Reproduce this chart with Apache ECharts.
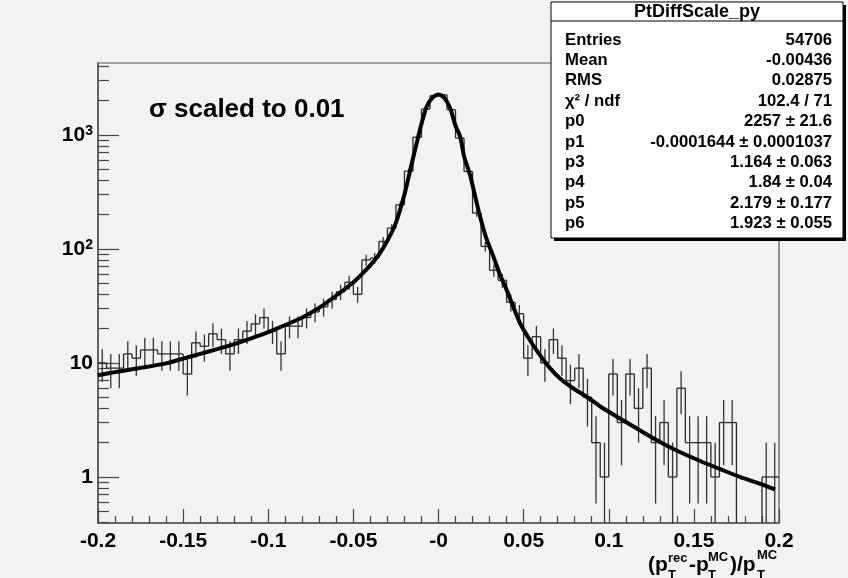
<!DOCTYPE html>
<html><head><meta charset="utf-8">
<script src="https://cdn.jsdelivr.net/npm/echarts@6/dist/echarts.min.js"></script>
<style>html,body{margin:0;padding:0;background:#f2f2f2;}#c{width:848px;height:578px;}</style>
</head><body><div id="c"></div>
<script>
// ---- data ----
const binLow = -0.2;
const binWidth = 0.005;
const counts = [
  10, 9, 9, 12, 11, 13, 13, 12, 12, 12,
  8, 15, 14, 18, 16, 12, 16, 19, 22, 25,
  19, 12, 21, 21, 25, 28, 31, 36, 42, 51,
  40, 80, 83, 116, 152, 243, 480, 950, 1680, 2200,
  2240, 1660, 935, 477, 206, 105, 65, 53, 34, 27,
  11, 17, 10, 16, 11, 7, 9, 5, 2, 1,
  8, 3, 8, 4, 9, 2, 3, 1, 6, 2,
  2, 2, 1, 3, 3, 0, 0, 0, 1, 1
];
const fitX = [-0.2, -0.19, -0.18, -0.17, -0.16, -0.15, -0.14, -0.13, -0.12, -0.11, -0.10, -0.09, -0.08, -0.07, -0.06, -0.05, -0.045, -0.04, -0.035, -0.03, -0.025, -0.02, -0.0175, -0.015, -0.0128, -0.01, -0.0069, -0.0035, 0, 0.0035, 0.0068, 0.01, 0.0127, 0.015, 0.0185, 0.0215, 0.0244, 0.028, 0.0322, 0.036, 0.04, 0.0479, 0.0537, 0.0596, 0.0655, 0.0714, 0.079, 0.087, 0.095, 0.1066, 0.118, 0.128, 0.138, 0.1537, 0.165, 0.177, 0.189, 0.1977];
const fitY = [7.8, 8.3, 8.8, 9.3, 9.9, 10.9, 12.0, 13.2, 14.6, 16.4, 18.6, 21.5, 25, 30.5, 39, 51, 60, 72, 89, 118, 170, 300, 430, 620, 846, 1250, 1771, 2120, 2257, 2100, 1714, 1200, 966, 650, 446, 290, 192, 125, 86, 60, 43.7, 22.3, 15.8, 11.7, 9.0, 7.3, 6.0, 5.05, 4.15, 3.26, 2.58, 2.11, 1.76, 1.38, 1.18, 1.0, 0.87, 0.777];
const xTickLabels = ['-0.2', '-0.15', '-0.1', '-0.05', '-0', '0.05', '0.1', '0.15', '0.2'];
const yMajorTicks = [1, 10, 100, 1000];
const yMinorTicks = [0.4, 0.5, 0.6, 0.7, 0.8, 0.9, 2, 3, 4, 5, 6, 7, 8, 9, 20, 30, 40, 50, 60, 70, 80, 90, 200, 300, 400, 500, 600, 700, 800, 900, 2000, 3000, 4000];
const statTitle = 'PtDiffScale_py';
const statNames = ['Entries', 'Mean', 'RMS', 'χ² / ndf', 'p0', 'p1', 'p3', 'p4', 'p5', 'p6'];
const statValues = ['54706', '-0.00436', '0.02875', '102.4 / 71', '2257 ± 21.6', '-0.0001644 ± 0.0001037', '1.164 ± 0.063', '1.84 ± 0.04', '2.179 ± 0.177', '1.923 ± 0.055'];
const Y_MIN = 0.395, Y_MAX = 4260;

// ---- build ----
const FONT = '"Liberation Sans", Arial, Helvetica, sans-serif';
const binData = counts.map((c, i) => [binLow + i * binWidth, binLow + (i + 1) * binWidth, c, i > 0 ? counts[i - 1] : -1]);
const fitData = fitX.map((x, i) => [x, fitY[i]]);

function renderBin(params, api) {
  const lo = api.value(0), hi = api.value(1), v = api.value(2), pv = api.value(3);
  const yv = v > 0 ? v : Y_MIN;
  const st = { stroke: '#2a2a2a', lineWidth: 1.3 };
  const ch = [];
  const pL = api.coord([lo, yv]), pR = api.coord([hi, yv]);
  if (v > 0) ch.push({ type: 'line', shape: { x1: pL[0], y1: pL[1], x2: pR[0], y2: pR[1] }, style: st });
  if (pv >= 0) {
    const pP = api.coord([lo, pv > 0 ? pv : Y_MIN]);
    if (!(pv <= 0 && v <= 0)) ch.push({ type: 'line', shape: { x1: pL[0], y1: pP[1], x2: pL[0], y2: pL[1] }, style: st });
  }
  if (v > 0) {
    const e = Math.sqrt(v), mid = (lo + hi) / 2;
    const t = api.coord([mid, Math.min(v + e, Y_MAX)]), b = api.coord([mid, Math.max(v - e, Y_MIN)]);
    ch.push({ type: 'line', shape: { x1: t[0], y1: t[1], x2: b[0], y2: b[1] }, style: { stroke: '#333', lineWidth: 1.3 } });
  }
  return { type: 'group', children: ch };
}

function supLabel(v) {
  if (v >= 100) return '{b|10}{s|' + Math.round(Math.log10(v)) + '}';
  return '{b|' + v + '}';
}

const statChildren = [
  { type: 'rect', shape: { x: 554, y: 5, width: 292, height: 236 }, style: { fill: '#000' } },
  { type: 'rect', shape: { x: 551, y: 2, width: 292, height: 236 }, style: { fill: '#fff', stroke: '#000', lineWidth: 1 } },
  { type: 'line', shape: { x1: 551, y1: 21, x2: 843, y2: 21 }, style: { stroke: '#000', lineWidth: 1 } },
  { type: 'text', style: { text: statTitle, x: 697, y: 12, fill: '#000', font: 'bold 18px ' + FONT, textAlign: 'center', textVerticalAlign: 'middle', align: 'center', verticalAlign: 'middle' } }
];
statNames.forEach((n, i) => {
  const y = 40 + i * 20.4;
  statChildren.push({ type: 'text', style: { text: n, x: 565, y: y, fill: '#000', font: 'bold 16.7px ' + FONT, textAlign: 'left', textVerticalAlign: 'middle', align: 'left', verticalAlign: 'middle' } });
  statChildren.push({ type: 'text', style: { text: statValues[i], x: 832, y: y, fill: '#000', font: 'bold 16.7px ' + FONT, textAlign: 'right', textVerticalAlign: 'middle', align: 'right', verticalAlign: 'middle' } });
});

function t(text, x, y, size) {
  return { type: 'text', style: { text: text, x: x, y: y, fill: '#000', font: 'bold ' + size + 'px ' + FONT, textAlign: 'left', textVerticalAlign: 'middle', align: 'left', verticalAlign: 'middle' } };
}
const axisTitle = [
  t('(p', 648, 565, 21), t('rec', 668, 558, 13), t('T', 668, 575, 13),
  t('-p', 689, 565, 21), t('MC', 708, 557, 13), t('T', 708, 575, 13),
  t(')/p', 730, 565, 21), t('MC', 757, 555, 13), t('T', 757, 575, 13)
];

const chart = echarts.init(document.getElementById('c'), null, { renderer: 'canvas' });
chart.setOption({
  backgroundColor: '#f2f2f2',
  animation: false,
  grid: { left: 98, top: 63, width: 681, height: 460, show: true, borderColor: '#555', borderWidth: 1.2, backgroundColor: 'transparent' },
  xAxis: {
    type: 'value', min: -0.2, max: 0.2, interval: 0.05,
    axisLine: { show: true, onZero: false, lineStyle: { color: '#555', width: 1.5 } },
    axisTick: { show: true, inside: true, length: 14, lineStyle: { color: '#444', width: 1.2 } },
    minorTick: { show: true, splitNumber: 5, length: 7, lineStyle: { color: '#444', width: 1.2 } },
    splitLine: { show: false },
    axisLabel: { margin: 8, color: '#000', fontFamily: FONT, fontWeight: 'bold', fontSize: 21,
      formatter: (v, i) => xTickLabels[i] }
  },
  yAxis: [{
    type: 'log', logBase: 10, min: Y_MIN, max: Y_MAX, position: 'left',
    axisLine: { show: true, onZero: false, lineStyle: { color: '#555', width: 1.5 } },
    axisTick: { show: true, inside: true, length: 21, customValues: yMajorTicks, lineStyle: { color: '#444', width: 1.2 } },
    splitLine: { show: false }, minorTick: { show: false },
    axisLabel: { margin: 5, customValues: yMajorTicks, formatter: supLabel,
      rich: { b: { fontFamily: FONT, fontWeight: 'bold', fontSize: 21, color: '#000' },
              s: { fontFamily: FONT, fontWeight: 'bold', fontSize: 14, color: '#000', verticalAlign: 'top' } } }
  }, {
    type: 'log', logBase: 10, min: Y_MIN, max: Y_MAX, position: 'left',
    axisLine: { show: false, onZero: false },
    axisTick: { show: true, inside: true, length: 11, customValues: yMinorTicks, lineStyle: { color: '#444', width: 1.2 } },
    splitLine: { show: false }, axisLabel: { show: false }
  }],
  series: [{
    type: 'custom', renderItem: renderBin, data: binData, xAxisIndex: 0, yAxisIndex: 0,
    encode: { x: [0, 1], y: 2 }, z: 2, silent: true
  }, {
    type: 'line', data: fitData, xAxisIndex: 0, yAxisIndex: 0, smooth: 0.25, showSymbol: false,
    lineStyle: { color: '#000', width: 4 }, z: 3, silent: true
  }],
  graphic: [
    { type: 'text', style: { text: 'σ scaled to 0.01', x: 149, y: 110, fill: '#000', font: 'bold 26px ' + FONT, textAlign: 'left', textVerticalAlign: 'middle', align: 'left', verticalAlign: 'middle' } },
    { type: 'group', z: 100, children: statChildren },
    { type: 'group', children: axisTitle }
  ]
});
</script></body></html>
